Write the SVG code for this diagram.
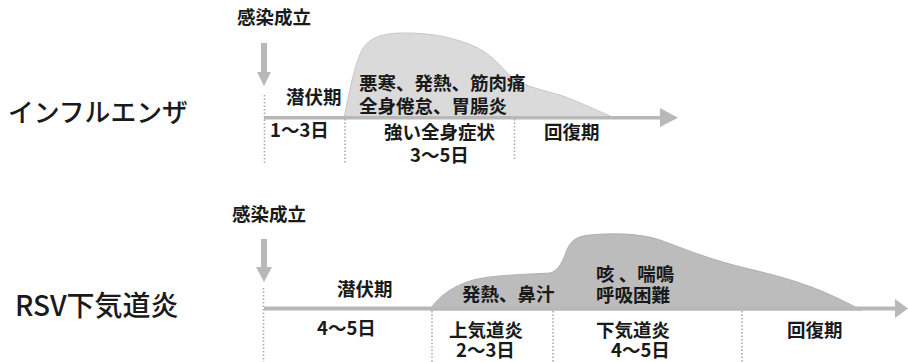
<svg xmlns="http://www.w3.org/2000/svg" width="908" height="362" viewBox="0 0 908 362">
<style>
text{font-family:"Noto Sans CJK JP","Noto Sans",sans-serif;font-weight:700;font-size:18.5px;fill:#1a1a1a}
.title{font-size:25.8px;font-weight:500}
.title2{font-size:28px;font-weight:500}
.dot{stroke:#aaaaaa;stroke-width:1.6;stroke-dasharray:1.5 2;fill:none}
.arrow{fill:#b8b8b8}
.hump1{fill:#dadada;stroke:#c8c8c8;stroke-width:1}
.hump2{fill:#bcbcbc;stroke:#b0b0b0;stroke-width:1}
</style>
<rect width="908" height="362" fill="#fff"/>

<!-- Influenza -->
<g id="flu-title"><text class="title" x="8" y="122">インフルエンザ</text></g>
<g id="flu-hump"><path class="hump1" d="M344,118 C349,95 354,65 362,50 C370,36 385,33 405,33 C430,33 455,37 478,48 C495,57 505,72 515,80 C525,86 545,91 560,95 C580,102 600,112 615,118 Z"/></g>
<g id="flu-connectors">
  <rect class="arrow" x="261" y="43" width="6" height="30"/>
  <polygon class="arrow" points="257,72 271,72 264,86"/>
  <rect class="arrow" x="264" y="116" width="398" height="3.5"/>
  <polygon class="arrow" points="660,108 678,117.8 660,127"/>
  <line class="dot" x1="264.5" y1="95" x2="264.5" y2="163"/>
  <line class="dot" x1="345" y1="119" x2="345" y2="163"/>
  <line class="dot" x1="514.5" y1="119" x2="514.5" y2="160"/>
</g>
<g id="flu-onset"><text x="237" y="24">感染成立</text></g>
<g id="flu-latent"><text x="286" y="104">潜伏期</text><text x="270" y="137">1～3日</text></g>
<g id="flu-symptom"><text x="359" y="90">悪寒、発熱、筋肉痛<tspan x="359" y="113">全身倦怠、胃腸炎</tspan></text><text x="384" y="139">強い全身症状<tspan x="410" y="162">3～5日</tspan></text></g>
<g id="flu-recovery"><text x="544" y="139">回復期</text></g>

<!-- RSV -->
<g id="rsv-title"><text class="title2" x="15" y="316">RSV下気道炎</text></g>
<g id="rsv-hump"><path class="hump2" d="M430,310 C436,300 448,288 470,281 C485,276 510,275 550,273 C557,271 561,265 565,255 C569,243 574,236 590,235 C610,233 640,233 660,240 C685,249 705,258 745,268 C780,276 810,285 835,297 C848,303 855,307 862,310 Z"/></g>
<g id="rsv-connectors">
  <rect class="arrow" x="261" y="239" width="6" height="29"/>
  <polygon class="arrow" points="256,267 272,267 264,282"/>
  <rect class="arrow" x="264" y="306.5" width="634" height="4"/>
  <polygon class="arrow" points="895,299 908,308.5 895,318"/>
  <line class="dot" x1="263.5" y1="288" x2="263.5" y2="362"/>
  <line class="dot" x1="432" y1="311" x2="432" y2="362"/>
  <line class="dot" x1="553" y1="311" x2="553" y2="362"/>
  <line class="dot" x1="742" y1="311" x2="742" y2="362"/>
</g>
<g id="rsv-onset"><text x="232" y="221">感染成立</text></g>
<g id="rsv-latent"><text x="337" y="296">潜伏期</text><text x="317" y="335">4～5日</text></g>
<g id="rsv-upper"><text x="462" y="301">発熱、鼻汁</text><text x="449" y="337">上気道炎<tspan x="456" y="357">2～3日</tspan></text></g>
<g id="rsv-lower"><text x="596" y="281">咳  、喘鳴<tspan x="596" y="302">呼吸困難</tspan></text><text x="596" y="337">下気道炎<tspan x="611" y="357">4～5日</tspan></text></g>
<g id="rsv-recovery"><text x="787" y="337">回復期</text></g>
</svg>
